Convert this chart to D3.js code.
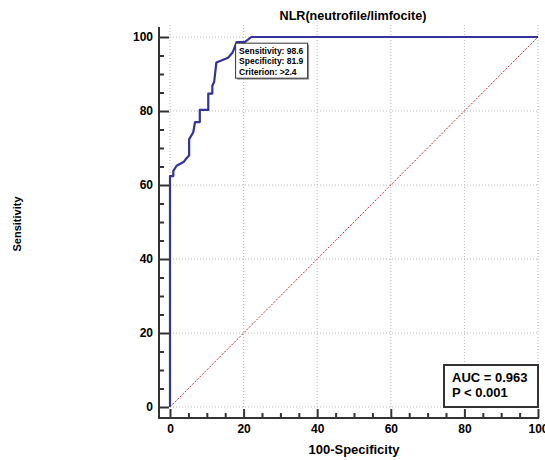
<!DOCTYPE html>
<html>
<head>
<meta charset="utf-8">
<script src="https://cdn.jsdelivr.net/npm/d3@7"></script>
<style>
  body { margin: 0; background: #fff; }
  svg { font-family: "Liberation Sans", Arial, sans-serif; }
</style>
</head>
<body>
<div id="chart"></div>
<script>
// ROC curve: 100-Specificity (x) and Sensitivity (y)
const fpr = [0, 0, 0.9, 0.9, 1.8, 3.8, 4.3, 5.2, 5.2, 6.3, 6.8, 8.1, 8.1, 10.4, 10.4, 11.5, 11.5, 12.0, 12.6, 15.8, 17.0, 18.1, 20.3, 22.1, 100];
const tpr = [0, 62.4, 62.4, 63.8, 65.2, 66.3, 67.0, 68.0, 72.4, 74.2, 77.0, 77.0, 80.3, 80.3, 84.7, 84.7, 86.8, 87.9, 93.1, 94.4, 95.8, 98.6, 98.6, 100, 100];
const majorTicks = [0, 20, 40, 60, 80, 100];
const minorTicks = [5, 10, 15, 25, 30, 35, 45, 50, 55, 65, 70, 75, 85, 90, 95];
const criterionLines = ["Sensitivity: 98.6", "Specificity: 81.9", "Criterion: >2.4"];
const criterionPoint = [18.1, 98.6];
const statLines = ["AUC = 0.963", "P < 0.001"];

const width = 545, height = 460;
const axisX = 159, axisY = 418;

const svg = d3.select("#chart")
  .append("svg")
    .attr("width", width)
    .attr("height", height);

const x = d3.scaleLinear().domain([0, 100]).range([170, 538]);
const y = d3.scaleLinear().domain([0, 100]).range([407, 37]);

// grid
const grid = svg.append("g")
  .attr("stroke", "#b8b8b8")
  .attr("stroke-width", 1)
  .attr("stroke-dasharray", "1,2");
grid.selectAll("line.v")
  .data(majorTicks)
  .join("line")
    .attr("class", "v")
    .attr("x1", d => x(d)).attr("x2", d => x(d))
    .attr("y1", 25).attr("y2", y(0));
grid.selectAll("line.h")
  .data(majorTicks)
  .join("line")
    .attr("class", "h")
    .attr("x1", x(0)).attr("x2", x(100))
    .attr("y1", d => y(d)).attr("y2", d => y(d));

// diagonal reference line
svg.append("line")
  .attr("x1", x(0)).attr("y1", y(0))
  .attr("x2", x(100)).attr("y2", y(100))
  .attr("stroke", "#d02828")
  .attr("stroke-width", 1)
  .attr("stroke-dasharray", "2,1.5");

// ROC curve
const rocData = fpr.map((f, i) => [f, tpr[i]]);
svg.append("path")
  .datum(rocData)
  .attr("fill", "none")
  .attr("stroke", "#333399")
  .attr("stroke-width", 2.2)
  .attr("stroke-linejoin", "round")
  .attr("d", d3.line().x(d => x(d[0])).y(d => y(d[1])));

// axes
const yAxis = svg.append("g")
  .attr("transform", `translate(${axisX},0)`)
  .call(d3.axisLeft(y).tickValues(majorTicks).tickSize(-10).tickPadding(6));
const yMinor = svg.append("g")
  .attr("transform", `translate(${axisX},0)`)
  .call(d3.axisLeft(y).tickValues(minorTicks).tickSize(-5).tickFormat(""));
const xAxis = svg.append("g")
  .attr("transform", `translate(0,${axisY})`)
  .call(d3.axisBottom(x).tickValues(majorTicks).tickSize(-9).tickPadding(6));
const xMinor = svg.append("g")
  .attr("transform", `translate(0,${axisY})`)
  .call(d3.axisBottom(x).tickValues(minorTicks).tickSize(-5).tickFormat(""));

[yAxis, yMinor, xAxis, xMinor].forEach(g => {
  g.select(".domain").remove();
  g.selectAll(".tick line").attr("stroke", "#333").attr("stroke-width", 2);
  g.selectAll("text")
    .attr("fill", "#000")
    .style("font-size", "12px")
    .style("font-weight", "bold")
    .style("font-family", "'Liberation Sans', Arial, sans-serif");
});

svg.append("line")
  .attr("x1", axisX).attr("x2", axisX)
  .attr("y1", 27).attr("y2", axisY + 1)
  .attr("stroke", "#333").attr("stroke-width", 2);
svg.append("line")
  .attr("x1", axisX - 1).attr("x2", x(100) + 1)
  .attr("y1", axisY).attr("y2", axisY)
  .attr("stroke", "#333").attr("stroke-width", 2);

// criterion box
const cx = x(criterionPoint[0]) - 1, cy = y(criterionPoint[1]) + 1;
svg.append("rect")
  .attr("x", cx + 1.5).attr("y", cy + 1.5)
  .attr("width", 72).attr("height", 35)
  .attr("fill", "#999");
svg.append("rect")
  .attr("x", cx).attr("y", cy)
  .attr("width", 72).attr("height", 35)
  .attr("fill", "#fff")
  .attr("stroke", "#333")
  .attr("stroke-width", 1);
svg.append("g")
  .selectAll("text")
  .data(criterionLines)
  .join("text")
    .attr("x", cx + 3.5)
    .attr("y", (d, i) => cy + 11 + i * 10.3)
    .text(d => d)
    .style("font-size", "8.5px")
    .style("font-weight", "bold");

// AUC box
svg.append("rect")
  .attr("x", 444).attr("y", 365)
  .attr("width", 94).attr("height", 42)
  .attr("fill", "#fff")
  .attr("stroke", "#333")
  .attr("stroke-width", 2);
svg.append("g")
  .selectAll("text")
  .data(statLines)
  .join("text")
    .attr("x", 452)
    .attr("y", (d, i) => 382 + i * 15)
    .text(d => d)
    .style("font-size", "13px")
    .style("font-weight", "bold");

// titles
svg.append("text")
  .attr("x", 353).attr("y", 20)
  .attr("text-anchor", "middle")
  .style("font-size", "12.6px")
  .style("font-weight", "bold")
  .text("NLR(neutrofile/limfocite)");
svg.append("text")
  .attr("x", 354).attr("y", 454)
  .attr("text-anchor", "middle")
  .style("font-size", "13px")
  .style("font-weight", "bold")
  .text("100-Specificity");
svg.append("text")
  .attr("transform", "translate(21,224) rotate(-90)")
  .attr("text-anchor", "middle")
  .style("font-size", "11px")
  .style("font-weight", "bold")
  .text("Sensitivity");
</script>
</body>
</html>
